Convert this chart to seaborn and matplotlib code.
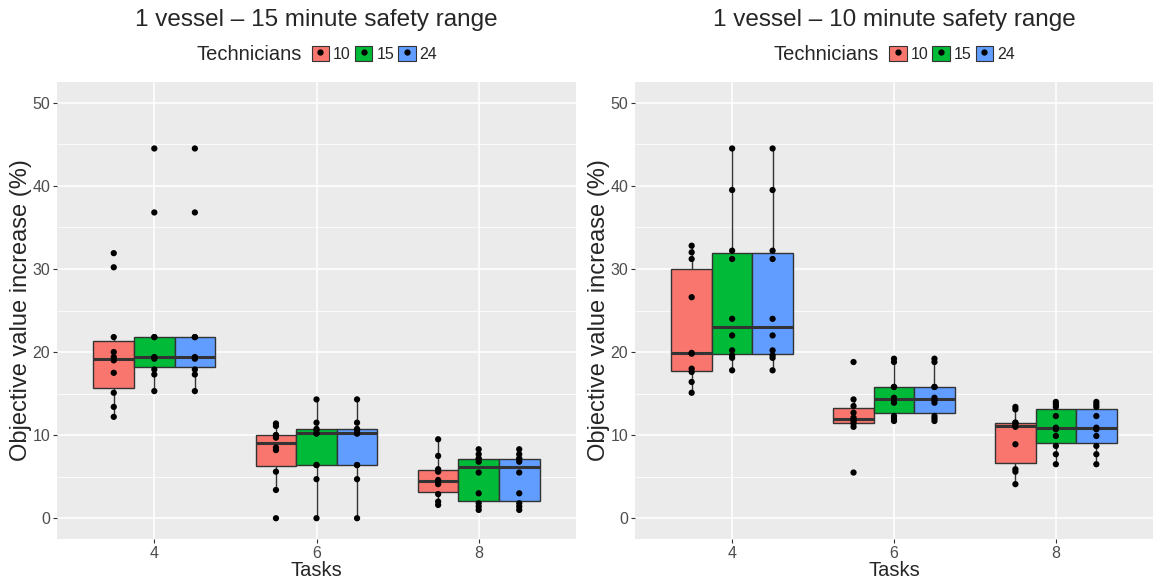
import numpy as np
import pandas as pd
import seaborn as sns
import matplotlib.pyplot as plt
from matplotlib.patches import Patch
from matplotlib.lines import Line2D
from matplotlib.legend_handler import HandlerTuple
from matplotlib.ticker import MultipleLocator

# categories
tasks = ["4", "6", "8"]
technicians = ["10", "15", "24"]
colours = ["#F8766D", "#00BA38", "#619CFF"]

# 1 vessel - 15 minute safety range (objective value increase, %)
r15_t4_10 = [12.2, 13.4, 15.1, 17.5, 19.0, 19.4, 20.0, 21.8, 30.2, 31.9]
r15_t4_15 = [15.3, 17.3, 17.9, 19.2, 19.3, 19.4, 21.8, 21.8, 36.8, 44.5]
r15_t4_24 = [15.3, 17.3, 17.9, 19.2, 19.3, 19.4, 21.8, 21.8, 36.8, 44.5]
r15_t6_10 = [0.0, 3.4, 5.6, 8.2, 8.5, 9.7, 10.0, 10.0, 11.1, 11.4]
r15_t6_15 = [0.0, 4.7, 6.4, 6.4, 10.2, 10.2, 10.6, 10.75, 11.5, 14.3]
r15_t6_24 = [0.0, 4.7, 6.4, 6.4, 10.2, 10.2, 10.6, 10.75, 11.5, 14.3]
r15_t8_10 = [1.6, 2.0, 2.9, 4.1, 4.3, 4.6, 5.6, 5.9, 7.5, 9.5]
r15_t8_15 = [1.0, 1.4, 1.8, 3.0, 5.5, 6.8, 7.1, 7.2, 7.7, 8.3]
r15_t8_24 = [1.0, 1.4, 1.8, 3.0, 5.5, 6.8, 7.1, 7.2, 7.7, 8.3]

# 1 vessel - 10 minute safety range
r10_t4_10 = [15.1, 16.4, 17.6, 18.0, 19.8, 19.9, 26.6, 31.2, 32.0, 32.8]
r10_t4_15 = [17.8, 19.3, 19.6, 20.2, 22.0, 24.0, 31.2, 32.2, 39.5, 44.5]
r10_t4_24 = [17.8, 19.3, 19.6, 20.2, 22.0, 24.0, 31.2, 32.2, 39.5, 44.5]
r10_t6_10 = [5.5, 11.0, 11.4, 11.7, 11.9, 12.1, 12.7, 13.5, 14.3, 18.8]
r10_t6_15 = [11.7, 12.0, 12.3, 13.9, 14.2, 14.5, 15.8, 15.8, 18.8, 19.2]
r10_t6_24 = [11.7, 12.0, 12.3, 13.9, 14.2, 14.5, 15.8, 15.8, 18.8, 19.2]
r10_t8_10 = [4.1, 5.6, 5.9, 8.9, 11.0, 11.3, 11.5, 11.5, 13.1, 13.4]
r10_t8_15 = [6.5, 7.7, 8.7, 9.9, 10.7, 10.9, 12.3, 13.4, 13.7, 14.0]
r10_t8_24 = [6.5, 7.7, 8.7, 9.9, 10.7, 10.9, 12.3, 13.4, 13.7, 14.0]


def long_table(groups):
    rows = []
    for (task, tech), vals in groups.items():
        for v in vals:
            rows.append((task, tech, v))
    return pd.DataFrame(rows, columns=["Tasks", "Technicians", "value"])


df15 = long_table({
    ("4", "10"): r15_t4_10, ("4", "15"): r15_t4_15, ("4", "24"): r15_t4_24,
    ("6", "10"): r15_t6_10, ("6", "15"): r15_t6_15, ("6", "24"): r15_t6_24,
    ("8", "10"): r15_t8_10, ("8", "15"): r15_t8_15, ("8", "24"): r15_t8_24,
})
df10 = long_table({
    ("4", "10"): r10_t4_10, ("4", "15"): r10_t4_15, ("4", "24"): r10_t4_24,
    ("6", "10"): r10_t6_10, ("6", "15"): r10_t6_15, ("6", "24"): r10_t6_24,
    ("8", "10"): r10_t8_10, ("8", "15"): r10_t8_15, ("8", "24"): r10_t8_24,
})

sns.set_style("darkgrid", {"axes.facecolor": "#EBEBEB", "grid.color": "white"})
plt.rcParams["font.family"] = ["Liberation Sans", "DejaVu Sans"]

fig = plt.figure(figsize=(11.54, 5.86), dpi=100)
ax1 = fig.add_axes([57 / 1154, 47 / 586, 519 / 1154, 457 / 586])
ax2 = fig.add_axes([635 / 1154, 47 / 586, 518 / 1154, 457 / 586])


def draw(ax, df, title):
    sns.boxplot(data=df, x="Tasks", y="value", hue="Technicians", order=tasks,
                hue_order=technicians, palette=colours, width=0.75, gap=0,
                showfliers=False, showcaps=False, linecolor="#333333", linewidth=1,
                medianprops=dict(linewidth=2.2), saturation=1, legend=False, ax=ax)
    n = len(ax.collections)
    sns.stripplot(data=df, x="Tasks", y="value", hue="Technicians", order=tasks,
                  hue_order=technicians, palette={t: "black" for t in technicians},
                  dodge=True, jitter=False, size=4.5, legend=False, ax=ax, zorder=5)
    # stripplot dodges on a 0.8 width, boxes use 0.75 -> pull dots onto box centres
    for coll in ax.collections[n:]:
        off = np.asarray(coll.get_offsets()).copy()
        c = np.round(off[:, 0])
        off[:, 0] = c + (off[:, 0] - c) * 0.75 / 0.8
        coll.set_offsets(off)

    ax.set_xlim(-0.6, 2.6)
    ax.set_ylim(-2.5, 52.5)
    ax.set_yticks([0, 10, 20, 30, 40, 50])
    ax.yaxis.set_minor_locator(MultipleLocator(5))
    ax.set_axisbelow(True)
    ax.grid(False)
    ax.yaxis.grid(True, which="major", color="white", linewidth=1.1)
    ax.yaxis.grid(True, which="minor", color="white", linewidth=0.55)
    ax.xaxis.grid(True, which="major", color="white", linewidth=1.1)
    for s in ax.spines.values():
        s.set_visible(False)
    ax.tick_params(axis="both", which="major", length=3, width=0.8, color="#333333",
                   labelcolor="#4D4D4D", labelsize=11.5, pad=2, bottom=True, left=True)
    ax.tick_params(axis="y", which="minor", length=0)
    ax.set_ylabel("Objective value increase (%)", fontsize=17, labelpad=0)
    ax.set_xlabel("Tasks", fontsize=14.5, labelpad=0)

    bb = ax.get_position()
    cx = (bb.x0 + bb.x1) / 2
    fig.text(cx, 1 - 20 / 586, title, ha="center", va="center", fontsize=17.5)

    handles = [(Patch(facecolor=c, edgecolor="#333333", linewidth=0.8),
                Line2D([0], [0], marker="o", color="black", markersize=3.5, linestyle=""))
               for c in colours]
    fig.text(cx - 120 / 1154, 1 - 54 / 586, "Technicians", ha="left", va="center", fontsize=14.5)
    fig.legend(handles, technicians, handler_map={tuple: HandlerTuple(ndivide=1)},
               loc="center left", bbox_to_anchor=(cx - 5 / 1154, 1 - 54 / 586),
               ncol=3, frameon=False, fontsize=11.5, handlelength=1.1, handleheight=1.1,
               handletextpad=0.25, columnspacing=0.25, borderpad=0, borderaxespad=0)


draw(ax1, df15, "1 vessel \u2013 15 minute safety range")
draw(ax2, df10, "1 vessel \u2013 10 minute safety range")

fig.savefig("out.png", dpi=100)
